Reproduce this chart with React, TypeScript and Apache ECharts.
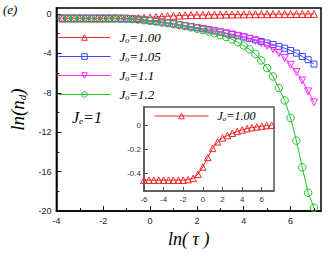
import React, { useEffect, useRef } from 'react';
import * as echarts from 'echarts';

// ---- data ----
const lnTau = [
  -3.75, -3.5, -3.25, -3, -2.75, -2.5, -2.25, -2, -1.75, -1.5, -1.25, -1, -0.75, -0.5, -0.25,
  0, 0.25, 0.5, 0.75, 1, 1.25, 1.5, 1.75, 2, 2.25, 2.5, 2.75, 3, 3.25, 3.5, 3.75,
  4, 4.25, 4.5, 4.75, 5, 5.25, 5.5, 5.75, 6, 6.25, 6.5, 6.75, 7,
];
const lnNdJ100 = [
  -0.46, -0.46, -0.46, -0.46, -0.46, -0.46, -0.46, -0.46, -0.46, -0.455, -0.45, -0.445, -0.43, -0.41, -0.385,
  -0.35, -0.31, -0.27, -0.23, -0.195, -0.165, -0.14, -0.122, -0.108, -0.097, -0.088, -0.078, -0.069, -0.061, -0.054, -0.047,
  -0.041, -0.035, -0.03, -0.026, -0.022, -0.019, -0.016, -0.013, -0.01, -0.008, -0.005, -0.003, -0.002,
];
const lnNdJ105 = [
  -0.46, -0.46, -0.46, -0.46, -0.46, -0.46, -0.46, -0.46, -0.46, -0.465, -0.475, -0.49, -0.52, -0.57, -0.62,
  -0.69, -0.76, -0.83, -0.91, -1.0, -1.1, -1.2, -1.3, -1.4, -1.51, -1.62, -1.73, -1.84, -1.96, -2.08, -2.21,
  -2.34, -2.48, -2.63, -2.8, -2.95, -3.11, -3.29, -3.48, -3.71, -3.98, -4.32, -4.65, -5.09,
];
const lnNdJ110 = [
  -0.46, -0.46, -0.46, -0.46, -0.46, -0.46, -0.46, -0.46, -0.46, -0.465, -0.475, -0.49, -0.52, -0.57, -0.63,
  -0.7, -0.77, -0.85, -0.93, -1.03, -1.13, -1.23, -1.33, -1.43, -1.53, -1.64, -1.75, -1.86, -1.97, -2.09, -2.22,
  -2.36, -2.53, -2.73, -2.96, -3.24, -3.57, -3.98, -4.48, -5.16, -5.9, -6.75, -7.86, -8.97,
];
const lnNdJ120 = [
  -0.46, -0.46, -0.46, -0.46, -0.46, -0.46, -0.46, -0.46, -0.46, -0.47, -0.48, -0.5, -0.53, -0.58, -0.64,
  -0.71, -0.79, -0.87, -0.95, -1.04, -1.14, -1.25, -1.37, -1.5, -1.64, -1.79, -1.96, -2.15, -2.35, -2.58, -2.87,
  -3.21, -3.6, -4.08, -4.72, -5.49, -6.34, -7.52, -8.77, -10.55, -12.85, -15.56, -18.14, -19.66,
];
const insetLnTau = [
  -6, -5.5, -5, -4.5, -4, -3.5, -3, -2.5, -2, -1.5, -1, -0.5, 0, 0.5, 1, 1.5, 2, 2.5, 3, 3.5, 4, 4.5, 5, 5.5, 6, 6.5, 7,
];
const insetLnNdJ100 = [
  -0.46, -0.46, -0.46, -0.46, -0.46, -0.46, -0.46, -0.46, -0.46, -0.455, -0.445, -0.41, -0.35, -0.27,
  -0.195, -0.14, -0.108, -0.088, -0.069, -0.054, -0.041, -0.03, -0.022, -0.016, -0.01, -0.005, -0.002,
];
const seriesLabels = ['1.00', '1.05', '1.1', '1.2'];
const mainXTicks = [-4, -2, 0, 2, 4, 6];
const mainXMinor = [-3, -1, 1, 3, 5, 7];
const mainYTicks = [0, -4, -8, -12, -16, -20];
const mainYMinor = [-2, -6, -10, -14, -18];
const insetXTicks = [-6, -4, -2, 0, 2, 4, 6];
const insetYTicks = [0, -0.2, -0.4];

const SERIF = '"Liberation Serif", "Times New Roman", serif';
const SANS = '"Liberation Sans", Arial, sans-serif';
const COLORS = ['#ee2a2a', '#3a46ff', '#ff28ff', '#22c422'];
const SYMBOLS = ['triangle', 'rect', 'triangle', 'circle'];
const ROTATE = [0, 0, 180, 0];
const SIZES = [7, 6, 7, 7.5];

const richJ = (size: number, sub: number) => ({
  j: { fontFamily: SERIF, fontStyle: 'italic', fontSize: size, lineHeight: size + 1, color: '#000' },
  s: { fontFamily: SERIF, fontStyle: 'italic', fontSize: sub, lineHeight: sub, verticalAlign: 'bottom', color: '#000' },
});

function pairs(xs: number[], ys: number[]) {
  return xs.map((x, i) => [x, ys[i]]);
}

export default function App() {
  const ref = useRef<HTMLDivElement>(null);
  useEffect(() => {
    const chart = echarts.init(ref.current!, null, { renderer: 'svg' });
    const mainData = [lnNdJ100, lnNdJ105, lnNdJ110, lnNdJ120];
    const mainSeries = mainData.map((ys, i) => ({
      name: 'main' + seriesLabels[i],
      type: 'line',
      xAxisIndex: 0,
      yAxisIndex: 0,
      data: pairs(lnTau, ys),
      symbol: SYMBOLS[i],
      symbolRotate: ROTATE[i],
      symbolSize: SIZES[i],
      showAllSymbol: true,
      lineStyle: { color: COLORS[i], width: 1 },
      itemStyle: { color: 'rgba(255,255,255,0)', borderColor: COLORS[i], borderWidth: 1 },
      emphasis: { disabled: true },
      z: 3 + i,
    }));
    const tickLabel = { fontFamily: SANS, fontSize: 9, color: '#222' };
    const option: any = {
      animation: false,
      backgroundColor: '#fff',
      grid: [
        { left: 48, top: 8, width: 273, height: 204, show: true, borderColor: '#000', borderWidth: 1.5, backgroundColor: 'rgba(0,0,0,0)' },
        { left: 144, top: 107, width: 130, height: 84, show: true, borderColor: '#555', borderWidth: 1.5, backgroundColor: '#fff', z: 5 },
      ],
      xAxis: [
        {
          type: 'value', gridIndex: 0, min: -4, max: 7.3, position: 'bottom',
          splitLine: { show: false },
          axisLine: { onZero: false, lineStyle: { color: '#000', width: 1.5 } },
          axisTick: { inside: true, length: 5, customValues: mainXTicks, lineStyle: { color: '#000', width: 1 } },
          axisLabel: { customValues: mainXTicks, margin: 5, ...tickLabel },
          name: 'ln( τ )', nameLocation: 'middle', nameGap: 18,
          nameTextStyle: { fontFamily: SERIF, fontStyle: 'italic', fontSize: 18, color: '#000' },
        },
        {
          type: 'value', gridIndex: 0, min: -4, max: 7.3, position: 'bottom',
          splitLine: { show: false }, axisLine: { show: false, onZero: false }, axisLabel: { show: false },
          axisTick: { inside: true, length: 3, customValues: mainXMinor, lineStyle: { color: '#000', width: 1 } },
        },
        {
          type: 'value', gridIndex: 1, min: -6, max: 7.25, position: 'bottom',
          splitLine: { show: false },
          axisLine: { onZero: false, lineStyle: { color: '#555', width: 1.5 } },
          axisTick: { inside: true, length: 4, customValues: insetXTicks, lineStyle: { color: '#555', width: 1 } },
          axisLabel: { customValues: insetXTicks, margin: 4, fontFamily: SANS, fontSize: 8, color: '#333' },
          z: 6,
        },
      ],
      yAxis: [
        {
          type: 'value', gridIndex: 0, min: -20, max: 0.6, position: 'left',
          splitLine: { show: false },
          axisLine: { onZero: false, lineStyle: { color: '#000', width: 1.5 } },
          axisTick: { inside: true, length: 5, customValues: mainYTicks, lineStyle: { color: '#000', width: 1 } },
          axisLabel: { customValues: mainYTicks, margin: 5, ...tickLabel },
          name: '{a|ln(n}{b|d}{a|)}', nameLocation: 'middle', nameGap: 24,
          nameTextStyle: {
            rich: {
              a: { fontFamily: SERIF, fontStyle: 'italic', fontSize: 19, lineHeight: 20, color: '#000' },
              b: { fontFamily: SERIF, fontStyle: 'italic', fontSize: 11, lineHeight: 11, verticalAlign: 'bottom', color: '#000' },
            },
          },
        },
        {
          type: 'value', gridIndex: 0, min: -20, max: 0.6, position: 'left',
          splitLine: { show: false }, axisLine: { show: false, onZero: false }, axisLabel: { show: false },
          axisTick: { inside: true, length: 3, customValues: mainYMinor, lineStyle: { color: '#000', width: 1 } },
        },
        {
          type: 'value', gridIndex: 1, min: -0.55, max: 0.15, position: 'left',
          splitLine: { show: false },
          axisLine: { onZero: false, lineStyle: { color: '#555', width: 1.5 } },
          axisTick: { inside: true, length: 4, customValues: insetYTicks, lineStyle: { color: '#555', width: 1 } },
          axisLabel: { customValues: insetYTicks, margin: 3, fontFamily: SANS, fontSize: 8, color: '#333' },
          z: 6,
        },
      ],
      legend: [
        {
          data: seriesLabels.map((l) => 'main' + l),
          orient: 'vertical', left: 58, top: 31, padding: 0,
          itemWidth: 52, itemHeight: 7, itemGap: 5.5,
          itemStyle: { borderWidth: 1 },
          lineStyle: { width: 1 },
          formatter: (name: string) => `{j|J}{s|o}{j|=${name.replace('main', '')}}`,
          textStyle: { rich: richJ(13, 8), padding: [0, 0, 0, 4] },
          selectedMode: false,
        },
        {
          data: ['inset1.00'],
          orient: 'vertical', left: 154, top: 110, padding: 0,
          itemWidth: 54, itemHeight: 7,
          itemStyle: { borderWidth: 1 },
          lineStyle: { width: 1 },
          formatter: (name: string) => `{j|J}{s|o}{j|=${name.replace('inset', '')}}`,
          textStyle: { rich: richJ(12, 7), padding: [0, 0, 0, 4] },
          selectedMode: false,
          z: 8,
        },
      ],
      graphic: [
        { type: 'text', left: 3, top: 3, style: { text: '(e)', fontFamily: SERIF, fontStyle: 'italic', fontSize: 13, fill: '#000' } },
        {
          type: 'text', left: 72, top: 109,
          style: {
            text: '{j|J}{s|e}{j|=1}',
            rich: {
              j: { fontFamily: SERIF, fontStyle: 'italic', fontSize: 16, lineHeight: 17, fill: '#000' },
              s: { fontFamily: SERIF, fontStyle: 'italic', fontSize: 9, lineHeight: 9, verticalAlign: 'bottom', fill: '#000' },
            },
          },
        },
      ],
      series: [
        ...mainSeries,
        {
          name: 'inset1.00',
          type: 'line',
          xAxisIndex: 2,
          yAxisIndex: 2,
          data: pairs(insetLnTau, insetLnNdJ100),
          symbol: 'triangle',
          symbolSize: 6.5,
          showAllSymbol: true,
          lineStyle: { color: COLORS[0], width: 1 },
          itemStyle: { color: 'rgba(255,255,255,0)', borderColor: COLORS[0], borderWidth: 1 },
          emphasis: { disabled: true },
          z: 10,
        },
      ],
    };
    chart.setOption(option);
    return () => chart.dispose();
  }, []);
  return <div ref={ref} style={{ position: 'fixed', left: 0, top: 0, width: 329, height: 253, background: '#fff' }} />;
}
